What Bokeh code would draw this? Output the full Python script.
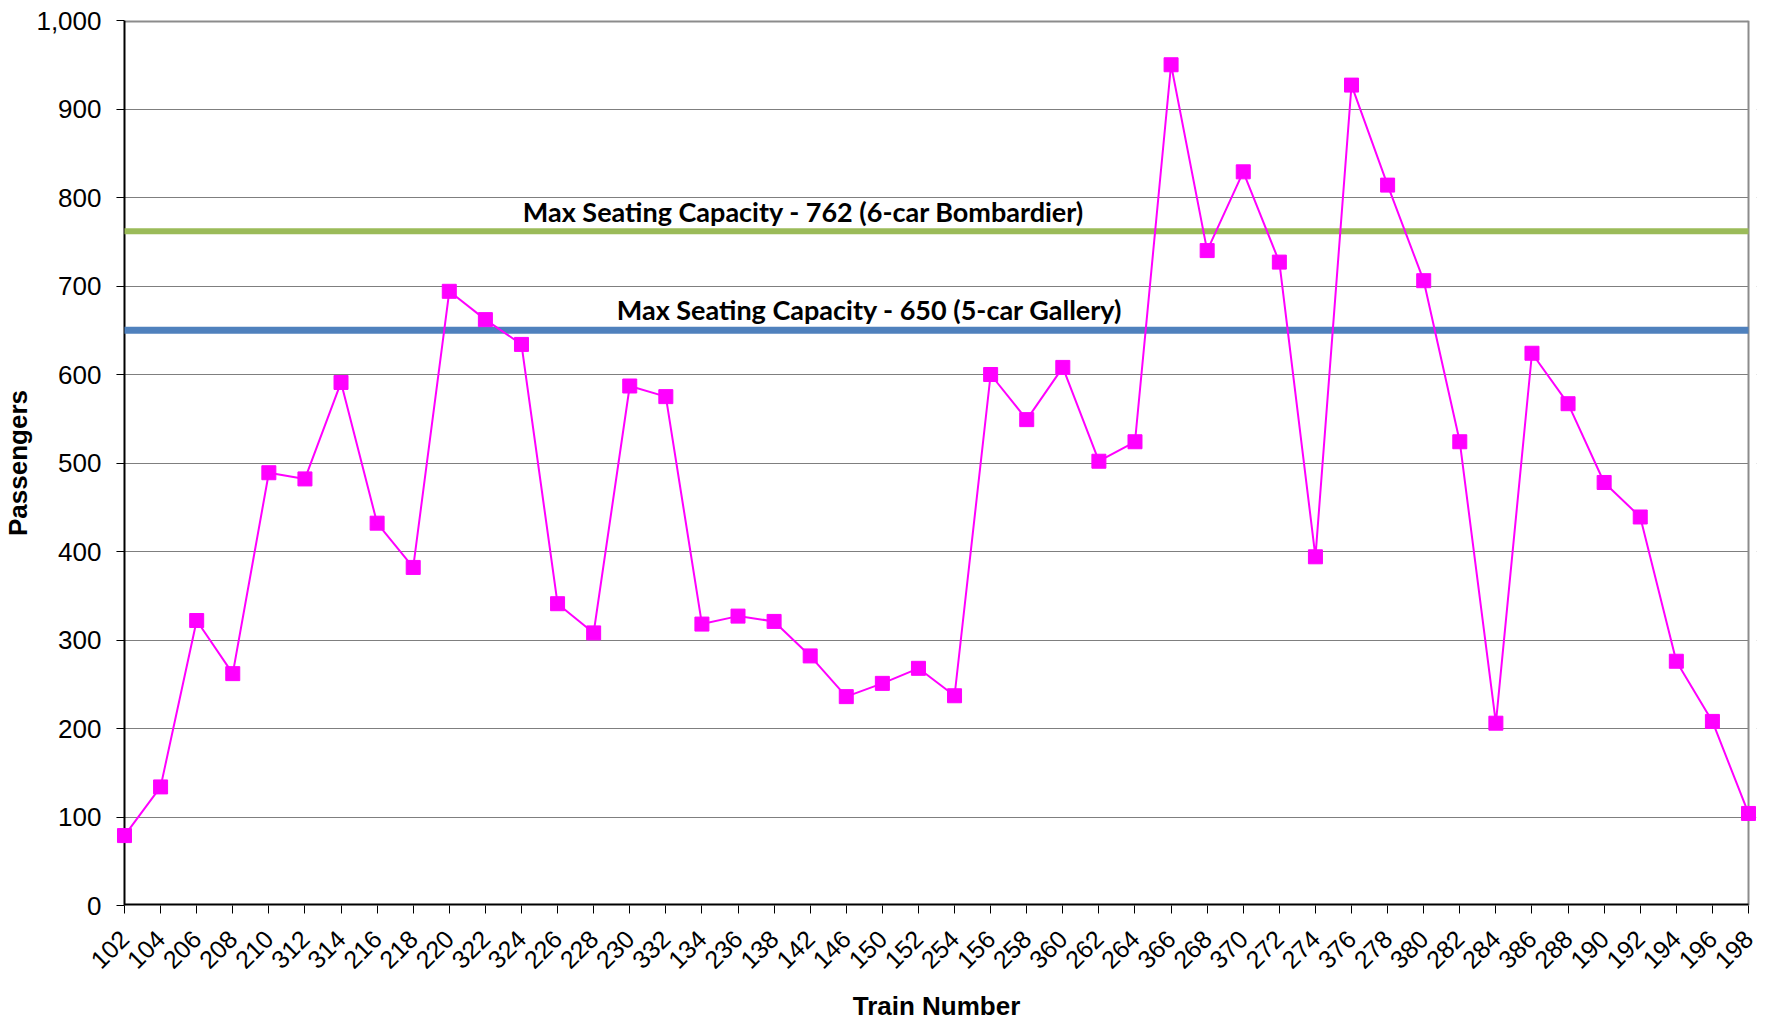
from bokeh.plotting import figure
from bokeh.models import Range1d, FixedTicker, NumeralTickFormatter, ColumnDataSource, Label, BoxAnnotation
from bokeh.embed import file_html
from bokeh.resources import INLINE
import math

# ---- data ----
trains = ["102", "104", "206", "208", "210", "312", "314", "216", "218", "220",
          "322", "324", "226", "228", "230", "332", "134", "236", "138", "142",
          "146", "150", "152", "254", "156", "258", "360", "262", "264", "366",
          "268", "370", "272", "274", "376", "278", "380", "282", "284", "386",
          "288", "190", "192", "194", "196", "198"]
passengers = [79, 134, 322, 262, 489, 482, 591, 432, 382, 694,
              662, 634, 341, 308, 587, 575, 318, 327, 321, 282,
              236, 251, 268, 237, 600, 549, 608, 502, 524, 950,
              740, 829, 727, 394, 927, 814, 706, 524, 206, 624,
              567, 478, 439, 276, 208, 104]
cap_bombardier = 762
cap_gallery = 650
label_bombardier = "Max Seating  Capacity - 762 (6-car Bombardier)"
label_gallery = "Max Seating Capacity - 650 (5-car Gallery)"
y_ticks = list(range(0, 1001, 100))
y_max = 1000

idx = list(range(len(trains)))
last = len(trains) - 1
src = ColumnDataSource(dict(x=idx, y=passengers))

PAD = 0.2215  # small room so the end markers are not cut by the frame

p = figure(width=1764, height=1023, output_backend="svg", toolbar_location=None,
           x_range=Range1d(-PAD, last + PAD), y_range=Range1d(0, y_max),
           min_border_left=115, min_border_right=8, min_border_top=20, min_border_bottom=118)

p.background_fill_color = "white"
p.border_fill_color = "white"
p.outline_line_color = None

# grid
p.xgrid.grid_line_color = None
p.ygrid.grid_line_color = "#7f7f7f"
p.ygrid.grid_line_width = 1
p.ygrid.ticker = FixedTicker(ticks=y_ticks)

# white covers for the padding strips (keep the grid inside the plot box)
p.add_layout(BoxAnnotation(right=0, fill_color="white", fill_alpha=1, line_color=None, level="underlay"))
p.add_layout(BoxAnnotation(left=last, fill_color="white", fill_alpha=1, line_color=None, level="underlay"))

# plot box: top and right borders grey, left and bottom axes black
p.segment(x0=[0], y0=[y_max], x1=[last], y1=[y_max], line_color="#8c8c8c", line_width=4)
p.segment(x0=[last], y0=[0], x1=[last], y1=[y_max], line_color="#8c8c8c", line_width=2)
p.segment(x0=[0], y0=[0], x1=[last], y1=[0], line_color="black", line_width=4)
p.segment(x0=[0], y0=[0], x1=[0], y1=[y_max], line_color="black", line_width=2)

# capacity lines
p.segment(x0=[0], y0=[cap_bombardier], x1=[last], y1=[cap_bombardier], line_color="#9BBB59", line_width=6)
p.segment(x0=[0], y0=[cap_gallery], x1=[last], y1=[cap_gallery], line_color="#4F81BD", line_width=7)

# series
p.line("x", "y", source=src, line_color="#FF00FF", line_width=2)
p.scatter("x", "y", source=src, marker="square", size=14, fill_color="#FF00FF", line_color="#FF00FF")

# labels
p.add_layout(Label(x=18.91, y=784, text=label_bombardier, text_align="center", text_baseline="alphabetic",
                   text_font="Lato", text_font_style="bold", text_font_size="27px", text_color="black"))
p.add_layout(Label(x=20.65, y=674, text=label_gallery, text_align="center", text_baseline="alphabetic",
                   text_font="Lato", text_font_style="bold", text_font_size="27px", text_color="black"))

# x axis
xa = p.xaxis[0]
xa.ticker = FixedTicker(ticks=idx)
xa.major_label_overrides = {i: t for i, t in enumerate(trains)}
xa.major_label_orientation = math.pi / 4
xa.major_label_text_font = "Liberation Sans"
xa.major_label_text_font_size = "25px"
xa.major_label_text_color = "black"
xa.major_label_standoff = 21
xa.axis_label = "Train Number"
xa.axis_label_text_font = "Liberation Sans"
xa.axis_label_text_font_style = "bold"
xa.axis_label_text_font_size = "26px"
xa.axis_label_text_color = "black"
xa.axis_label_standoff = 11
xa.axis_line_color = None
xa.major_tick_line_color = "black"
xa.major_tick_line_width = 1
xa.major_tick_out = 8
xa.major_tick_in = 0
xa.minor_tick_line_color = None

# y axis
ya = p.yaxis[0]
ya.ticker = FixedTicker(ticks=y_ticks)
ya.formatter = NumeralTickFormatter(format="0,0")
ya.major_label_text_font = "Liberation Sans"
ya.major_label_text_font_size = "26px"
ya.major_label_text_color = "black"
ya.major_label_standoff = 15
ya.axis_label = "Passengers"
ya.axis_label_text_font = "Liberation Sans"
ya.axis_label_text_font_style = "bold"
ya.axis_label_text_font_size = "26px"
ya.axis_label_text_color = "black"
ya.axis_label_standoff = 0
ya.axis_line_color = None
ya.major_tick_line_color = "black"
ya.major_tick_line_width = 1
ya.major_tick_out = 0
ya.major_tick_in = 8
ya.minor_tick_line_color = None

open("out.html", "w").write(file_html(p, INLINE))
